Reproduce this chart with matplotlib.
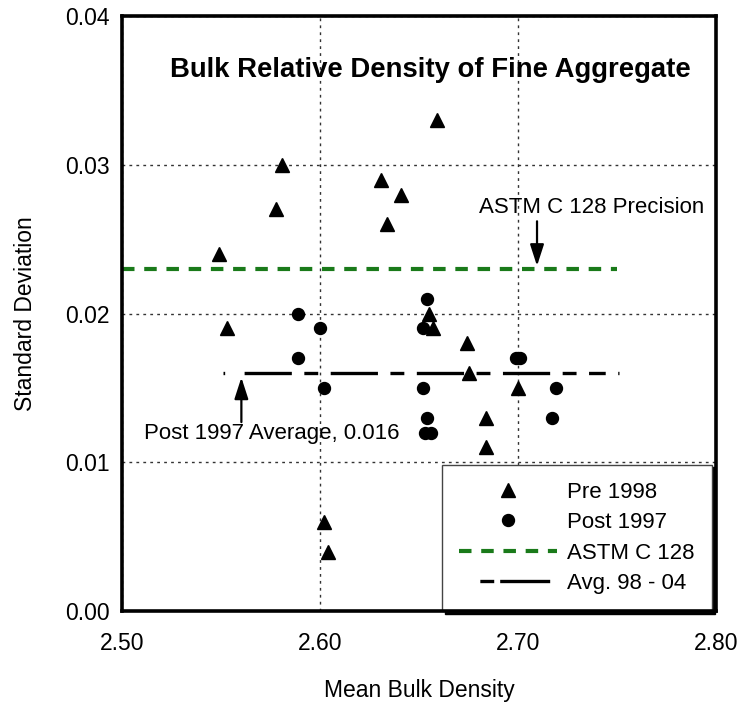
import matplotlib
matplotlib.use("Agg")
import matplotlib.pyplot as plt
from matplotlib.lines import Line2D

plt.rcParams["font.family"] = ["Liberation Sans", "DejaVu Sans"]
plt.rcParams["lines.scale_dashes"] = False

# Pre 1998 (triangles)
pre_x = [2.549, 2.553, 2.578, 2.581, 2.631, 2.634, 2.641, 2.659, 2.655, 2.657,
         2.674, 2.675, 2.700, 2.684, 2.684, 2.602, 2.604]
pre_y = [0.024, 0.019, 0.027, 0.030, 0.029, 0.026, 0.028, 0.033, 0.020, 0.019,
         0.018, 0.016, 0.015, 0.013, 0.011, 0.006, 0.004]

# Post 1997 (circles)
post_x = [2.589, 2.600, 2.589, 2.602, 2.654, 2.652, 2.652, 2.654, 2.653, 2.656,
          2.699, 2.701, 2.719, 2.717]
post_y = [0.020, 0.019, 0.017, 0.015, 0.021, 0.019, 0.015, 0.013, 0.012, 0.012,
          0.017, 0.017, 0.015, 0.013]

astm_x = [2.50, 2.75]
astm_y = [0.023, 0.023]
avg_x = [2.551, 2.751]
avg_y = [0.016, 0.016]

fig = plt.figure(figsize=(7.41, 7.02), dpi=100)
ax = fig.add_axes([0.1646, 0.1296, 0.8017, 0.8476])

ax.set_xlim(2.5, 2.8)
ax.set_ylim(0, 0.04)
ax.set_xticks([2.5, 2.6, 2.7, 2.8])
ax.set_yticks([0.0, 0.01, 0.02, 0.03, 0.04])
ax.set_xticklabels(["2.50", "2.60", "2.70", "2.80"])
ax.set_yticklabels(["0.00", "0.01", "0.02", "0.03", "0.04"])
ax.tick_params(length=0, labelsize=16.5)
ax.tick_params(axis="x", pad=15)
ax.tick_params(axis="y", pad=9)
ax.grid(True, color="#333333", linestyle=(0, (2, 3)), linewidth=1.0, zorder=0)
ax.set_axisbelow(True)
for s in ax.spines.values():
    s.set_linewidth(2.6)
    s.set_zorder(5)

ax.plot(astm_x, astm_y, color="#1a7a1a", linewidth=3.0,
        linestyle=(0, (9, 7)), zorder=2)
avg_dash = [1.2, 14] + [34, 9, 10, 9] * 4 + [12, 9]
ax.plot(avg_x, avg_y, color="black", linewidth=2.4,
        linestyle=(0, avg_dash), zorder=2)

ax.plot(pre_x, pre_y, linestyle="none", marker="^", markersize=9.5,
        color="black", zorder=3)
ax.plot(post_x, post_y, linestyle="none", marker="o", markersize=8.6,
        color="black", zorder=3)

ax.text(2.6558, 0.0364, "Bulk Relative Density of Fine Aggregate",
        fontsize=19.8, fontweight="bold", ha="center", va="center")

arrow = dict(arrowstyle="-|>,head_length=1.3,head_width=0.42",
             color="black", lw=1.6, shrinkA=0, shrinkB=0)
ax.text(2.737, 0.0271, "ASTM C 128 Precision", fontsize=16, ha="center", va="center")
ax.annotate("", xy=(2.7096, 0.0232), xytext=(2.7096, 0.0262), arrowprops=arrow)

ax.text(2.5758, 0.01195, "Post 1997 Average, 0.016", fontsize=16,
        ha="center", va="center")
ax.annotate("", xy=(2.5603, 0.0157), xytext=(2.5603, 0.0127), arrowprops=arrow)

ax.set_xlabel("Mean Bulk Density", fontsize=16.5)
ax.set_ylabel("Standard Deviation", fontsize=16.5)
ax.xaxis.set_label_coords(0.5, -0.114)
ax.yaxis.set_label_coords(-0.143, 0.5)

handles = [
    Line2D([], [], linestyle="none", marker="^", markersize=9.5, color="black"),
    Line2D([], [], linestyle="none", marker="o", markersize=8.6, color="black"),
    Line2D([], [], color="#1a7a1a", linewidth=3.0, linestyle=(0, (9, 7))),
    Line2D([], [], color="black", linewidth=2.4, linestyle=(55.3, (10, 4.3, 36, 20))),
]
labels = ["Pre 1998", "Post 1997", "ASTM C 128", "Avg. 98 - 04"]
leg = ax.legend(handles, labels, loc="upper left", bbox_to_anchor=(0.5387, 0.2462),
                borderaxespad=0, fontsize=16, handlelength=4.4, handletextpad=0.45,
                labelspacing=0.42, borderpad=0.78, fancybox=False,
                shadow={"color": "black", "alpha": 1}, framealpha=1)
leg.get_frame().set_edgecolor("#444444")
leg.get_frame().set_linewidth(1.0)
leg.set_zorder(4)

fig.savefig("out.png", dpi=100)
